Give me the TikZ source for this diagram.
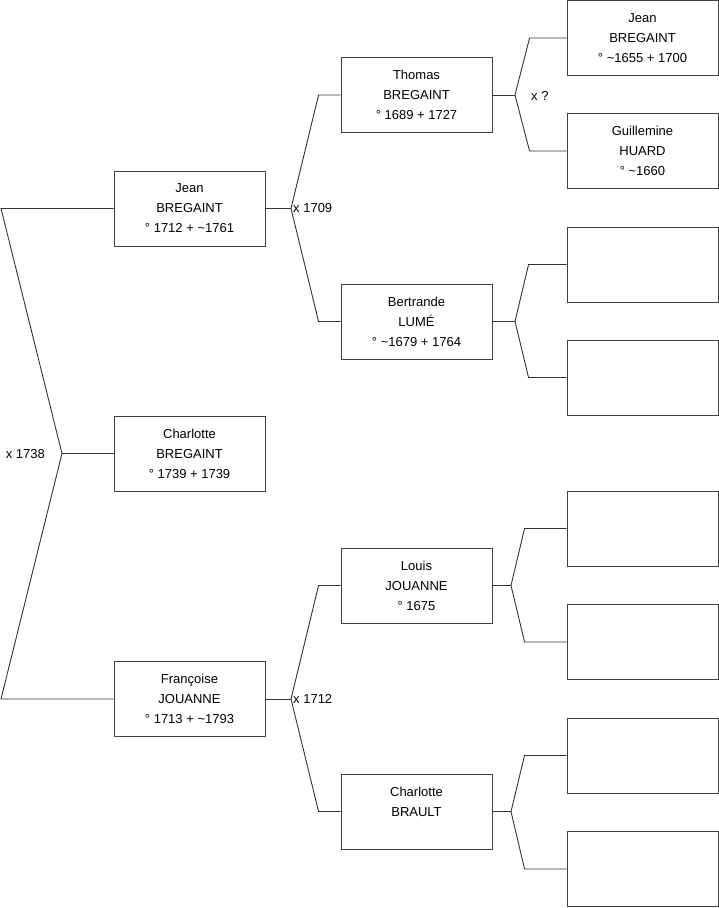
\documentclass[tikz,border=0pt]{standalone}
\usepackage{fontspec}
\setmainfont{Liberation Sans}
\usetikzlibrary{positioning}

\begin{document}
\begin{tikzpicture}[x=1pt, y=-1pt,
  person/.style={draw=black!75, line width=0.9pt, fill=white, minimum width=151pt,
                 minimum height=75pt, align=center, inner sep=0pt,
                 font=\fontsize{13}{20}\selectfont},
  link/.style={draw=black!80, line width=0.9pt},
  union/.style={inner sep=1pt, font=\fontsize{13}{15}\selectfont}
]
\useasboundingbox (0,0) rectangle (719,908);

% generation 1
\node[person] (jean) at (189.5,208.5) {Jean\\BREGAINT\\° 1712 + \textasciitilde1761};
\node[person] (charlotte) at (189.5,453.5) {Charlotte\\BREGAINT\\° 1739 + 1739};
\node[person] (francoise) at (189.5,699) {Françoise\\JOUANNE\\° 1713 + \textasciitilde1793};

% generation 2
\node[person] (thomas) at (416.5,95) {Thomas\\BREGAINT\\° 1689 + 1727};
\node[person] (bertrande) at (416.5,321.5) {Bertrande\\LUMÉ\\° \textasciitilde1679 + 1764};
\node[person] (louis) at (416.5,585.5) {Louis\\JOUANNE\\° 1675};
\node[person] (brault) at (416.5,811.5) {Charlotte\\BRAULT\\\phantom{° 1675}};

% generation 3
\node[person] (jeanb) at (642.5,38) {Jean\\BREGAINT\\° \textasciitilde1655 + 1700};
\node[person] (guillemine) at (642.5,151) {Guillemine\\HUARD\\° \textasciitilde1660};
\node[person] (bfather) at (642.5,264.5) {};
\node[person] (bmother) at (642.5,377.5) {};
\node[person] (lfather) at (642.5,528.5) {};
\node[person] (lmother) at (642.5,642) {};
\node[person] (cfather) at (642.5,755.5) {};
\node[person] (cmother) at (642.5,869) {};

% brackets
\coordinate (m0) at (62,453.5);
\coordinate (m1) at (291,208.5);
\coordinate (m2) at (291,699);
\coordinate (m3) at (515,95);
\coordinate (m4) at (515,321.5);
\coordinate (m5) at (511,585.5);
\coordinate (m6) at (511,811.5);

\draw[link] (jean.west) -- (1,208.5) -- (m0) -- (1,699) -- (francoise.west);
\draw[link] (m0) -- (charlotte.west);

\draw[link] (jean.east) -- (m1);
\draw[link] (thomas.west) -- ++(-22,0) -- (m1) -- ([xshift=-22pt]bertrande.west) -- (bertrande.west);
\draw[link] (francoise.east) -- (m2);
\draw[link] (louis.west) -- ++(-22,0) -- (m2) -- ([xshift=-22pt]brault.west) -- (brault.west);

\draw[link] (thomas.east) -- (m3);
\draw[link] (jeanb.west) -- ++(-37,0) -- (m3) -- ([xshift=-37pt]guillemine.west) -- (guillemine.west);
\draw[link] (bertrande.east) -- (m4);
\draw[link] (bfather.west) -- ++(-38,0) -- (m4) -- ([xshift=-38pt]bmother.west) -- (bmother.west);
\draw[link] (louis.east) -- (m5);
\draw[link] (lfather.west) -- ++(-42,0) -- (m5) -- ([xshift=-42pt]lmother.west) -- (lmother.west);
\draw[link] (brault.east) -- (m6);
\draw[link] (cfather.west) -- ++(-42,0) -- (m6) -- ([xshift=-42pt]cmother.west) -- (cmother.west);

% marriages
\node[union, anchor=east] (u0) at ([xshift=-16pt,yshift=-1pt]m0) {x 1738};
\node[union, anchor=west] (u1) at ([xshift=1pt]m1) {x 1709};
\node[union, anchor=west] (u2) at ([xshift=1pt]m2) {x 1712};
\node[union, anchor=west] (u3) at ([xshift=15pt,yshift=-1pt]m3) {x ?};
\end{tikzpicture}
\end{document}
